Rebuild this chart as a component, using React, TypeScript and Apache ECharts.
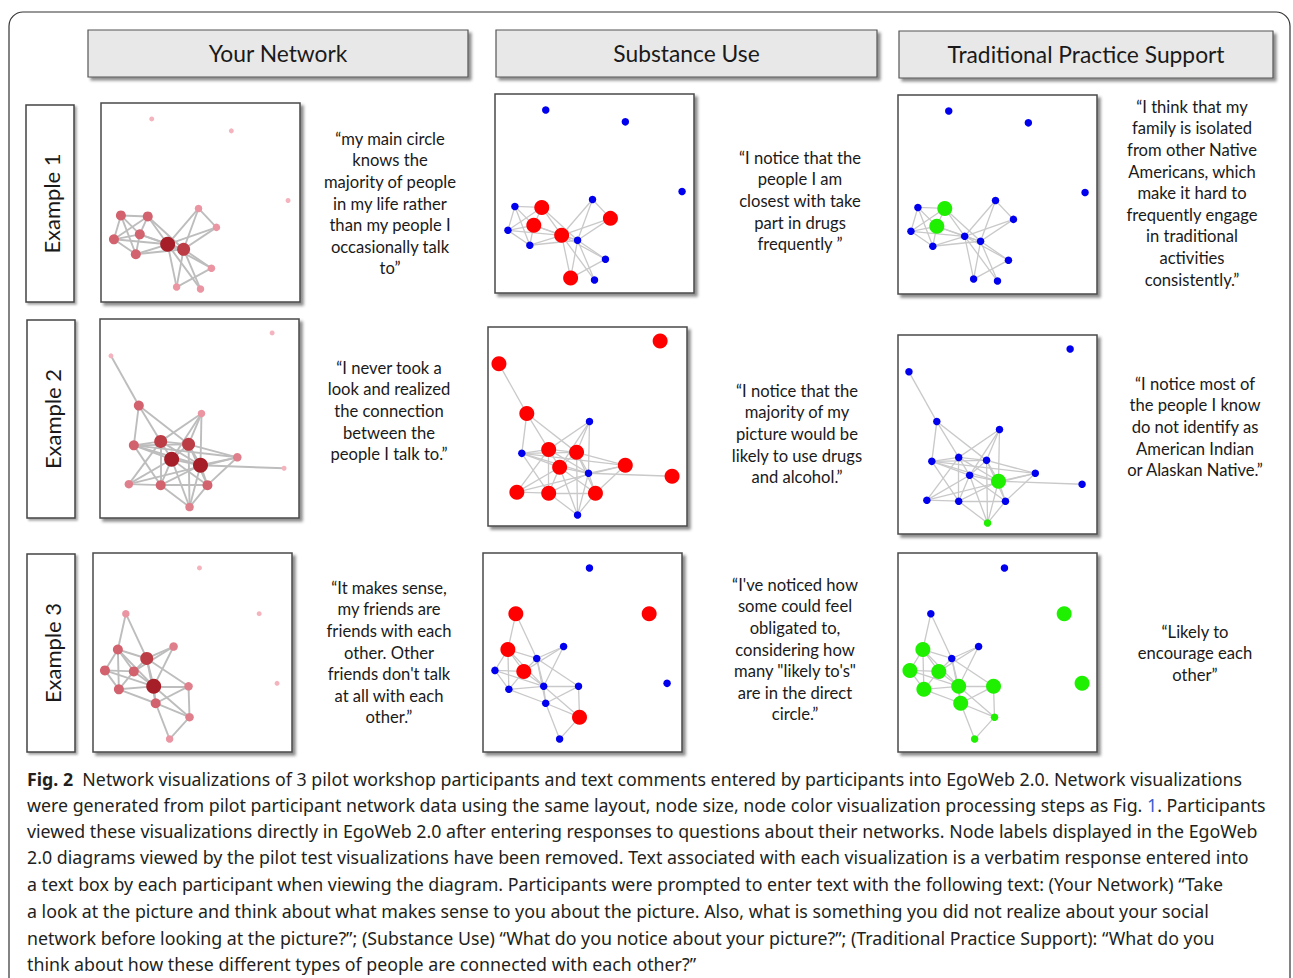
import React, { useEffect, useRef } from "react";
import * as echarts from "echarts";

// ---------- text content ----------
const columnTitles = ["Your Network", "Substance Use", "Traditional Practice Support"];
const rowTitles = ["Example 1", "Example 2", "Example 3"];

const quotes: string[][] = [
  [
    "“my main circle\nknows the\nmajority of people\nin my life rather\nthan my people I\noccasionally talk\nto”",
    "“I notice that the\npeople I am\nclosest with take\npart in drugs\nfrequently ”",
    "“I think that my\nfamily is isolated\nfrom other Native\nAmericans, which\nmake it hard to\nfrequently engage\nin traditional\nactivities\nconsistently.”",
  ],
  [
    "“I never took a\nlook and realized\nthe connection\nbetween the\npeople I talk to.”",
    "“I notice that the\nmajority of my\npicture would be\nlikely to use drugs\nand alcohol.”",
    "“I notice most of\nthe people I know\ndo not identify as\nAmerican Indian\nor Alaskan Native.”",
  ],
  [
    "“It makes sense,\nmy friends are\nfriends with each\nother. Other\nfriends don't talk\nat all with each\nother.”",
    "“I've noticed how\nsome could feel\nobligated to,\nconsidering how\nmany \"likely to's\"\nare in the direct\ncircle.”",
    "“Likely to\nencourage each\nother”",
  ],
];

const captionLines = [
  "{b|Fig. 2}  Network visualizations of 3 pilot workshop participants and text comments entered by participants into EgoWeb 2.0. Network visualizations",
  "were generated from pilot participant network data using the same layout, node size, node color visualization processing steps as Fig. {l|1}. Participants",
  "viewed these visualizations directly in EgoWeb 2.0 after entering responses to questions about their networks. Node labels displayed in the EgoWeb",
  "2.0 diagrams viewed by the pilot test visualizations have been removed. Text associated with each visualization is a verbatim response entered into",
  "a text box by each participant when viewing the diagram. Participants were prompted to enter text with the following text: (Your Network) “Take",
  "a look at the picture and think about what makes sense to you about the picture. Also, what is something you did not realize about your social",
  "network before looking at the picture?”; (Substance Use) “What do you notice about your picture?”; (Traditional Practice Support): “What do you",
  "think about how these different types of people are connected with each other?”",
];

// ---------- network data (node coordinates in a 0..200 panel space) ----------
// Example 1
const ex1X = [51, 131, 188, 98, 20, 47, 116, 39, 13, 67, 83, 35, 111, 76, 100];
const ex1Y = [16, 28, 98, 106, 113, 114, 125, 132, 137, 142, 147, 152, 166, 185, 187];
const ex1Links = [
  [4, 5], [4, 8], [4, 11], [4, 7], [5, 7], [5, 8], [5, 9], [5, 10], [7, 8], [7, 11], [7, 9], [7, 10],
  [8, 11], [8, 9], [11, 9], [11, 10], [9, 10], [9, 3], [9, 6], [9, 13], [9, 12], [10, 3], [10, 6],
  [10, 12], [10, 14], [10, 13], [3, 6], [13, 12], [9, 14],
];
const ex1Network = [0, 0, 0, 1, 3, 3, 1, 3, 3, 5, 4, 3, 1, 1, 1];
const ex1Substance = ["B", "B", "B", "B", "B", "R", "R", "R", "B", "R", "B", "B", "B", "R", "B"];
const ex1Traditional = ["B", "B", "B", "B", "B", "G", "B", "G", "B", "B", "B", "B", "B", "B", "B"];

// Example 2
const ex2X = [11, 173, 39, 102, 34, 61, 89, 72, 101, 138, 185, 29, 61, 108, 90];
const ex2Y = [37, 14, 87, 95, 127, 123, 126, 141, 147, 139, 150, 166, 167, 167, 189];
const ex2Links = [
  [0, 2], [2, 4], [2, 5], [2, 6], [3, 5], [3, 6], [3, 7], [3, 8], [4, 5], [4, 6], [4, 7], [4, 8],
  [4, 9], [4, 12], [5, 6], [5, 7], [5, 8], [5, 11], [5, 12], [6, 7], [6, 8], [6, 9], [6, 13],
  [7, 8], [7, 11], [7, 12], [7, 13], [7, 14], [8, 9], [8, 10], [8, 13], [8, 14], [9, 13],
  [11, 12], [12, 13], [12, 14], [13, 14], [8, 12], [6, 14], [9, 11],
];
const ex2Network = [0, 0, 3, 1, 3, 4, 4, 5, 5, 2, 0, 2, 3, 3, 2];
const ex2Substance = ["R", "R", "R", "B", "B", "R", "R", "R", "B", "R", "R", "R", "R", "R", "B"];
const ex2Traditional = ["B", "B", "B", "B", "B", "B", "B", "B", "G", "B", "B", "B", "B", "B", "g"];

// Example 3
const ex3X = [107, 33, 167, 25, 81, 54, 12, 41, 185, 61, 96, 26, 63, 97, 77];
const ex3Y = [15, 61, 61, 97, 94, 106, 118, 119, 131, 134, 134, 137, 151, 165, 187];
const ex3Links = [
  [1, 3], [1, 5], [3, 6], [3, 7], [3, 11], [3, 5], [3, 9], [6, 7], [6, 11], [6, 9], [7, 11],
  [7, 9], [7, 5], [7, 4], [5, 4], [5, 9], [5, 12], [5, 10], [4, 9], [11, 9], [11, 12], [9, 10],
  [9, 12], [9, 13], [10, 12], [10, 13], [12, 13], [12, 14], [13, 14],
];
const ex3Network = [0, 1, 0, 3, 2, 4, 3, 3, 0, 5, 2, 3, 3, 2, 1];
const ex3Substance = ["B", "R", "R", "R", "B", "B", "B", "R", "B", "B", "B", "B", "B", "R", "B"];
const ex3Traditional = ["B", "B", "G", "G", "B", "B", "G", "G", "G", "G", "G", "G", "G", "g", "g"];

// ---------- styles ----------
const networkColors = ["#f5b3be", "#eb95a2", "#e07f8c", "#d2626e", "#bd3d47", "#a61f28"];
const networkSizes = [5, 7.5, 8.5, 10, 13, 15];
const codeColors: Record<string, string> = { R: "#ff0000", B: "#0000ee", G: "#1ef000", g: "#1ef000" };
const codeSizes: Record<string, number> = { R: 15, B: 7.5, G: 15, g: 7.5 };

const panelLefts = [[101, 495, 898], [100, 488, 898], [93, 483, 898]];
const panelTops = [[103, 94, 95], [319, 327, 335], [553, 553, 553]];
const panelSize = 199;

const quoteCenters = [[390, 800, 1192], [389, 797, 1195], [389, 795, 1195]];
const quoteTops = [[128, 147, 96], [357, 380, 373], [577, 574, 621]];

const headerBoxes = [[88, 30, 380, 47], [496, 30, 381, 47], [899, 31, 374, 47]];
const rowBoxes = [[26, 105, 48, 197], [27, 320, 48, 198], [27, 554, 48, 198]];

const FONT = "Lato, 'Open Sans', sans-serif";
const CAPTION_FONT = "'Noto Sans', 'Open Sans', sans-serif";
const CAP_SIZE = 17.8;

function buildOption() {
  const examples = [
    { x: ex1X, y: ex1Y, links: ex1Links, cols: [ex1Network, ex1Substance, ex1Traditional] },
    { x: ex2X, y: ex2Y, links: ex2Links, cols: [ex2Network, ex2Substance, ex2Traditional] },
    { x: ex3X, y: ex3Y, links: ex3Links, cols: [ex3Network, ex3Substance, ex3Traditional] },
  ];
  const grid: any[] = [];
  const xAxis: any[] = [];
  const yAxis: any[] = [];
  const series: any[] = [];
  examples.forEach((ex, r) => {
    ex.cols.forEach((codes: any[], c) => {
      const gi = grid.length;
      grid.push({
        show: true,
        left: panelLefts[r][c],
        top: panelTops[r][c],
        width: panelSize,
        height: panelSize,
        backgroundColor: "#ffffff",
        borderColor: "#4a4a4a",
        borderWidth: 1.5,
        shadowColor: "rgba(0,0,0,0.45)",
        shadowBlur: 3,
        shadowOffsetX: 3,
        shadowOffsetY: 3,
      });
      xAxis.push({ gridIndex: gi, type: "value", min: 0, max: 200, show: false });
      yAxis.push({ gridIndex: gi, type: "value", min: 0, max: 200, inverse: true, show: false });
      const data = ex.x.map((xv, i) => {
        const code = codes[i];
        const color = c === 0 ? networkColors[code] : codeColors[code];
        const size = c === 0 ? networkSizes[code] : codeSizes[code];
        return { name: `e${r}c${c}n${i}`, value: [xv, ex.y[i]], symbolSize: size, itemStyle: { color } };
      });
      series.push({
        type: "graph",
        coordinateSystem: "cartesian2d",
        xAxisIndex: gi,
        yAxisIndex: gi,
        layout: "none",
        symbol: "circle",
        silent: true,
        label: { show: false },
        emphasis: { disabled: true },
        data,
        links: ex.links.map(([s, t]) => ({ source: s, target: t })),
        lineStyle: {
          color: c === 0 ? "#bdbdbd" : "#c9c9c9",
          width: c === 0 ? 1.9 : 1.3,
          opacity: 1,
          curveness: 0,
        },
      });
    });
  });

  const graphic: any[] = [];
  // outer rounded frame
  graphic.push({
    type: "rect",
    shape: { x: 9, y: 12, width: 1281, height: 1000, r: 14 },
    style: { fill: "none", stroke: "#333", lineWidth: 1.2 },
    z: 0,
  });
  // column headers
  headerBoxes.forEach(([x, y, w, h], i) => {
    graphic.push({
      type: "rect",
      shape: { x, y, width: w, height: h },
      style: {
        fill: "#e8e8e8",
        stroke: "#555",
        lineWidth: 1.2,
        shadowBlur: 3,
        shadowOffsetX: 3,
        shadowOffsetY: 3,
        shadowColor: "rgba(0,0,0,0.45)",
      },
    });
    graphic.push({
      type: "text",
      x: x + w / 2,
      y: y + h / 2 - 1,
      style: {
        text: columnTitles[i],
        fill: "#1a1a1a",
        font: `22.8px ${FONT}`,
        textAlign: "center",
        textVerticalAlign: "middle",
      },
    });
  });
  // row labels
  rowBoxes.forEach(([x, y, w, h], i) => {
    graphic.push({
      type: "rect",
      shape: { x, y, width: w, height: h },
      style: {
        fill: "#ffffff",
        stroke: "#444",
        lineWidth: 1.5,
        shadowBlur: 2,
        shadowOffsetX: 2,
        shadowOffsetY: 2,
        shadowColor: "rgba(0,0,0,0.35)",
      },
    });
    graphic.push({
      type: "text",
      x: x + w / 2 + 1,
      y: y + h / 2,
      rotation: Math.PI / 2,
      style: {
        text: rowTitles[i],
        fill: "#1a1a1a",
        font: `22px ${FONT}`,
        textAlign: "center",
        textVerticalAlign: "middle",
      },
    });
  });
  // quotes
  quotes.forEach((row, r) =>
    row.forEach((q, c) => {
      graphic.push({
        type: "text",
        x: quoteCenters[r][c],
        y: quoteTops[r][c],
        style: {
          text: q,
          fill: "#1a1a1a",
          font: `16.6px ${FONT}`,
          lineHeight: 21.6,
          textAlign: "center",
          textVerticalAlign: "top",
        },
      });
    })
  );
  // caption
  const capY = [779, 805, 831, 857, 884, 911, 938, 964];
  captionLines.forEach((line, i) => {
    graphic.push({
      type: "text",
      x: 27,
      y: capY[i],
      style: {
        text: line,
        fill: "#231f20",
        font: `${CAP_SIZE}px ${CAPTION_FONT}`,
        textAlign: "left",
        textVerticalAlign: "middle",
        rich: {
          b: { fontWeight: "bold", fontSize: CAP_SIZE, fontFamily: CAPTION_FONT, fill: "#231f20" },
          l: { fontSize: CAP_SIZE, fontFamily: CAPTION_FONT, fill: "#3a5fcd" },
        },
      },
    });
  });

  return { animation: false, backgroundColor: "#ffffff", grid, xAxis, yAxis, series, graphic };
}

export default function App() {
  const ref = useRef<HTMLDivElement>(null);
  useEffect(() => {
    const chart = echarts.init(ref.current as HTMLDivElement, null, { renderer: "svg" });
    chart.setOption(buildOption());
    return () => chart.dispose();
  }, []);
  return (
    <div
      ref={ref}
      style={{ position: "absolute", left: 0, top: 0, width: 1293, height: 978, background: "#fff" }}
    />
  );
}
